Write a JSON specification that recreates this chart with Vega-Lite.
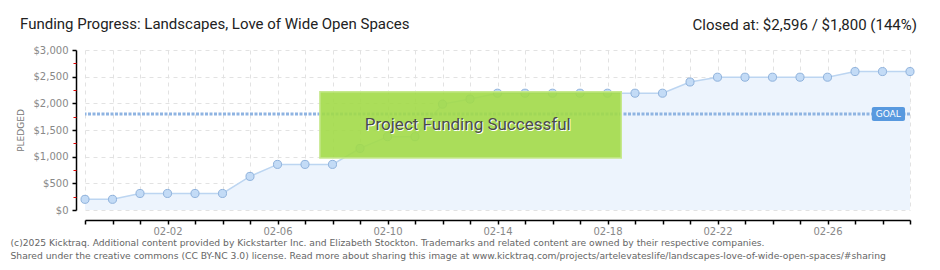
{
  "$schema": "https://vega.github.io/schema/vega-lite/v6.json",
  "width": 825,
  "height": 160,
  "autosize": {"type": "none"},
  "padding": {"left": 85, "top": 50, "right": 30, "bottom": 60},
  "background": "white",
  "title": {
    "text": "Funding Progress: Landscapes, Love of Wide Open Spaces",
    "anchor": "start",
    "frame": "group",
    "dx": -65,
    "dy": 26,
    "offset": 12,
    "font": "Roboto",
    "fontSize": 15,
    "fontWeight": "normal",
    "color": "#222222"
  },
  "config": {"view": {"stroke": null}},
  "datasets": {
    "pledged": [
      {"date": "2025-01-30T00:00:00", "pledged": 200},
      {"date": "2025-01-31T00:00:00", "pledged": 200},
      {"date": "2025-02-01T00:00:00", "pledged": 310},
      {"date": "2025-02-02T00:00:00", "pledged": 310},
      {"date": "2025-02-03T00:00:00", "pledged": 310},
      {"date": "2025-02-04T00:00:00", "pledged": 310},
      {"date": "2025-02-05T00:00:00", "pledged": 630},
      {"date": "2025-02-06T00:00:00", "pledged": 855},
      {"date": "2025-02-07T00:00:00", "pledged": 855},
      {"date": "2025-02-08T00:00:00", "pledged": 855},
      {"date": "2025-02-09T00:00:00", "pledged": 1155},
      {"date": "2025-02-10T00:00:00", "pledged": 1375},
      {"date": "2025-02-11T00:00:00", "pledged": 1375},
      {"date": "2025-02-12T00:00:00", "pledged": 1985},
      {"date": "2025-02-13T00:00:00", "pledged": 2080},
      {"date": "2025-02-14T00:00:00", "pledged": 2190},
      {"date": "2025-02-15T00:00:00", "pledged": 2190},
      {"date": "2025-02-16T00:00:00", "pledged": 2190},
      {"date": "2025-02-17T00:00:00", "pledged": 2190},
      {"date": "2025-02-18T00:00:00", "pledged": 2190},
      {"date": "2025-02-19T00:00:00", "pledged": 2190},
      {"date": "2025-02-20T00:00:00", "pledged": 2190},
      {"date": "2025-02-21T00:00:00", "pledged": 2400},
      {"date": "2025-02-22T00:00:00", "pledged": 2490},
      {"date": "2025-02-23T00:00:00", "pledged": 2490},
      {"date": "2025-02-24T00:00:00", "pledged": 2490},
      {"date": "2025-02-25T00:00:00", "pledged": 2490},
      {"date": "2025-02-26T00:00:00", "pledged": 2490},
      {"date": "2025-02-27T00:00:00", "pledged": 2596},
      {"date": "2025-02-28T00:00:00", "pledged": 2596},
      {"date": "2025-03-01T00:00:00", "pledged": 2596}
    ],
    "single": [{}]
  },
  "data": {"name": "pledged"},
  "resolve": {"axis": {"x": "independent", "y": "independent"}},
  "layer": [
    {
      "mark": {"type": "area", "color": "#edf4fd", "opacity": 1},
      "encoding": {
        "x": {
          "field": "date",
          "type": "temporal",
          "scale": {
            "domain": [
              {"year": 2025, "month": 1, "date": 30},
              {"year": 2025, "month": 3, "date": 1}
            ],
            "nice": false
          },
          "axis": {
            "orient": "bottom",
            "title": [
              "(c)2025 Kicktraq. Additional content provided by Kickstarter Inc. and Elizabeth Stockton. Trademarks and related content are owned by their respective companies.",
              "Shared under the creative commons (CC BY-NC 3.0) license. Read more about sharing this image at www.kicktraq.com/projects/artelevateslife/landscapes-love-of-wide-open-spaces/#sharing"
            ],
            "titleAnchor": "start",
            "titleAlign": "left",
            "titleBaseline": "top",
            "titleX": -75,
            "titleY": 18,
            "titleFont": "DejaVu Sans",
            "titleFontSize": 9.2,
            "titleFontWeight": "normal",
            "titleColor": "#666666",
            "titleLineHeight": 13,
            "offset": 10,
            "tickCount": {"interval": "day", "step": 1},
            "labelExpr": "(month(datum.value) == 1 && date(datum.value) % 4 == 2) ? timeFormat(datum.value, '%m-%d') : ''",
            "labelOverlap": false,
            "labelFlush": false,
            "labelFont": "DejaVu Sans",
            "labelFontSize": 10,
            "labelColor": "#888888",
            "labelPadding": 2,
            "domainColor": "#000000",
            "domainWidth": 1.5,
            "tickColor": "#000000",
            "tickWidth": 1.5,
            "tickSize": 4,
            "grid": true,
            "gridColor": "#e2e2e2",
            "gridDash": [4, 4],
            "gridWidth": 1
          }
        },
        "y": {
          "field": "pledged",
          "type": "quantitative",
          "scale": {"domain": [0, 3000], "nice": false},
          "axis": {
            "orient": "left",
            "title": "PLEDGED",
            "titleFont": "DejaVu Sans",
            "titleFontSize": 9,
            "titleFontWeight": "normal",
            "titleColor": "#777777",
            "titleX": -56,
            "titleY": 80,
            "titleAngle": -90,
            "titleAlign": "center",
            "titleBaseline": "middle",
            "values": [0, 500, 1000, 1500, 2000, 2500, 3000],
            "format": "$,.0f",
            "offset": 9,
            "labelFont": "DejaVu Sans",
            "labelFontSize": 10,
            "labelColor": "#888888",
            "labelPadding": 4,
            "domainColor": "#000000",
            "domainWidth": 1.5,
            "tickColor": "#000000",
            "tickWidth": 1.5,
            "tickSize": 4,
            "grid": true,
            "gridColor": "#e2e2e2",
            "gridDash": [4, 4],
            "gridWidth": 1
          }
        }
      }
    },
    {
      "mark": {"type": "line", "color": "#bcd5f1", "strokeWidth": 1.5},
      "encoding": {
        "x": {"field": "date", "type": "temporal", "axis": null},
        "y": {"field": "pledged", "type": "quantitative", "axis": null}
      }
    },
    {
      "data": {"name": "single"},
      "mark": {"type": "rule", "color": "#8fb4e2", "strokeWidth": 3, "strokeDash": [3, 1.5]},
      "encoding": {
        "y": {
          "datum": 1800,
          "type": "quantitative",
          "axis": {
            "orient": "left",
            "title": null,
            "values": [250, 750, 1250, 1750, 2250, 2750],
            "labels": false,
            "domain": false,
            "grid": false,
            "offset": 9,
            "tickColor": "#e00000",
            "tickWidth": 1,
            "tickSize": 3
          }
        }
      }
    },
    {
      "mark": {"type": "point", "shape": "circle", "filled": true, "fill": "#c3dbf6", "stroke": "#8fb2dc", "strokeWidth": 1, "size": 65, "opacity": 1},
      "encoding": {
        "x": {"field": "date", "type": "temporal", "axis": null},
        "y": {"field": "pledged", "type": "quantitative", "axis": null}
      }
    },
    {
      "data": {"name": "single"},
      "mark": {"type": "rect", "fill": "#a2da48", "fillOpacity": 0.9, "stroke": "#c6e88e", "strokeWidth": 1.5},
      "encoding": {
        "x": {"datum": {"year": 2025, "month": 2, "date": 7, "hours": 13}, "type": "temporal", "axis": null},
        "x2": {"datum": {"year": 2025, "month": 2, "date": 18, "hours": 12}},
        "y": {"datum": 975, "type": "quantitative", "axis": null},
        "y2": {"datum": 2215}
      }
    },
    {
      "data": {"name": "single"},
      "mark": {"type": "text", "text": "Project Funding Successful", "font": "Roboto", "fontSize": 17, "fill": "#ffffff", "align": "center", "baseline": "middle", "dx": 1, "dy": 1},
      "encoding": {
        "x": {"datum": {"year": 2025, "month": 2, "date": 12, "hours": 22}, "type": "temporal", "axis": null},
        "y": {"datum": 1590, "type": "quantitative", "axis": null}
      }
    },
    {
      "data": {"name": "single"},
      "mark": {"type": "text", "text": "Project Funding Successful", "font": "Roboto", "fontSize": 17, "fill": "#4a4a4a", "align": "center", "baseline": "middle"},
      "encoding": {
        "x": {"datum": {"year": 2025, "month": 2, "date": 12, "hours": 22}, "type": "temporal", "axis": null},
        "y": {"datum": 1590, "type": "quantitative", "axis": null}
      }
    },
    {
      "data": {"name": "single"},
      "mark": {"type": "rect", "fill": "#5899df", "cornerRadius": 2},
      "encoding": {
        "x": {"datum": {"year": 2025, "month": 2, "date": 27, "hours": 14, "minutes": 40}, "type": "temporal", "axis": null},
        "x2": {"datum": {"year": 2025, "month": 2, "date": 28, "hours": 19, "minutes": 40}},
        "y": {"datum": 1670, "type": "quantitative", "axis": null},
        "y2": {"datum": 1930}
      }
    },
    {
      "data": {"name": "single"},
      "mark": {"type": "text", "text": "GOAL", "font": "DejaVu Sans", "fontSize": 9, "fill": "#ffffff", "align": "center", "baseline": "middle"},
      "encoding": {
        "x": {"datum": {"year": 2025, "month": 2, "date": 28, "hours": 5}, "type": "temporal", "axis": null},
        "y": {"datum": 1800, "type": "quantitative", "axis": null}
      }
    },
    {
      "data": {"name": "single"},
      "mark": {"type": "text", "text": "Closed at:  $2,596 /  $1,800 (144%)", "font": "Roboto", "fontSize": 15, "fill": "#222222", "align": "right", "baseline": "alphabetic", "dx": 7, "dy": -20},
      "encoding": {
        "x": {"datum": {"year": 2025, "month": 3, "date": 1}, "type": "temporal", "axis": null},
        "y": {"datum": 3000, "type": "quantitative", "axis": null}
      }
    }
  ]
}
